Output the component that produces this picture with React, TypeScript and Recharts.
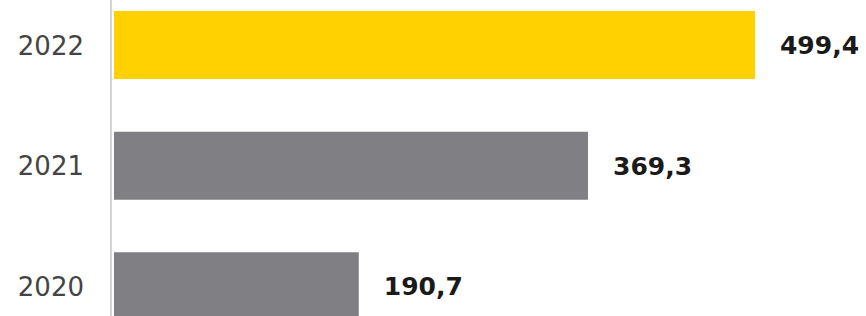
import React from "react";
import { BarChart, Bar, XAxis, YAxis, Cell, LabelList } from "recharts";

const years = ["2022", "2021", "2020"];
const values = [499.4, 369.3, 190.7];
const colors = ["#FFD100", "#808084", "#808084"];

const data = years.map((y, i) => ({ year: y, value: values[i] }));

const fmt = (v: number) => v.toFixed(1).replace(".", ",");

export default function App() {
  return (
    <div
      style={{
        position: "absolute",
        left: 0,
        top: 0,
        width: 866,
        height: 316,
        overflow: "hidden",
        background: "#fff",
      }}
    >
      <div style={{ marginTop: -15 }}>
        <BarChart
          width={866}
          height={362}
          data={data}
          layout="vertical"
          margin={{ top: 0, right: 0, bottom: 0, left: 0 }}
          barCategoryGap={0}
        >
          <XAxis type="number" domain={[-2.34, 585.9]} allowDataOverflow hide />
          <YAxis
            type="category"
            dataKey="year"
            width={111}
            axisLine={{ stroke: "#d4d4d4", strokeWidth: 2 }}
            tickLine={false}
            tickSize={0}
            tickMargin={27}
            tick={{
              fill: "#444444",
              fontSize: 26,
              fontFamily: "DejaVu Sans",
              fontWeight: 400,
            }}
          />
          <Bar dataKey="value" barSize={68} isAnimationActive={false}>
            {data.map((d, i) => (
              <Cell key={d.year} fill={colors[i]} />
            ))}
            <LabelList
              dataKey="value"
              position="right"
              offset={25}
              formatter={(v: any) => fmt(Number(v))}
              style={{
                fill: "#1a1a1a",
                fontSize: 25,
                fontWeight: "bold",
                fontFamily: "DejaVu Sans",
              }}
            />
          </Bar>
        </BarChart>
      </div>
    </div>
  );
}
